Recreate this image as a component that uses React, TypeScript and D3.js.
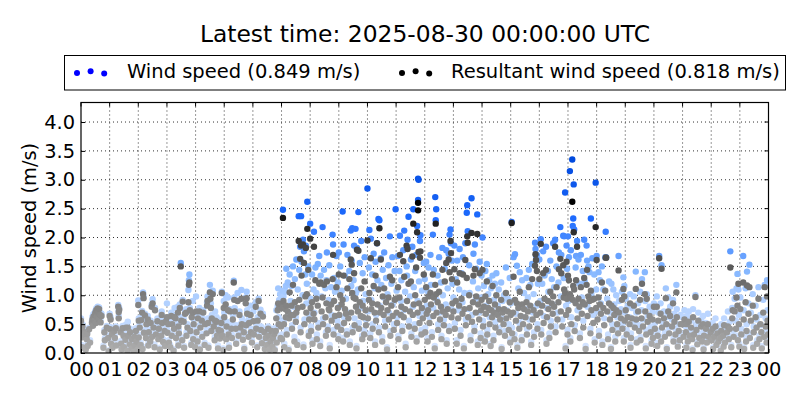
import React, { useEffect, useRef } from "react";
import * as d3 from "d3";

// one row per reading: [minute of the hour, wind speed, resultant wind speed]
const hour00 = [[0,.6,.56],[1,.3,.27],[1,.14,.1],[3,.5,.46],[4,.43,.38],[5,.12,.09],[7,.34,.31],[8,.37,.33],[10,.09,.06],[12,.29,.24],[13,.36,.33],[14,.16,.12],[17,.44,.41],[19,.22,.18],[23,.56,.53],[24,.63,.58],[25,.5,.47],[26,.67,.63],[28,.6,.56],[29,.7,.66],[30,.73,.7],[31,.55,.52],[32,.77,.74],[33,.66,.63],[35,.8,.77],[36,.74,.7],[37,.62,.58],[38,.79,.76],[40,.7,.66],[41,.56,.53],[43,.68,.64],[47,.13,.09],[49,.4,.36],[50,.26,.22],[54,.47,.44],[57,.3,.26],[58,.05,.03]];
const hour01 = [[0,.68,.64],[1,.45,.41],[2,.62,.58],[3,.2,.16],[5,.36,.32],[6,.13,.09],[10,.42,.38],[11,.3,.26],[13,.46,.43],[14,.18,.13],[18,.83,.8],[19,.74,.71],[19,.64,.6],[20,.78,.75],[23,.4,.36],[24,.21,.16],[25,.1,.06],[27,.47,.43],[29,.34,.3],[30,.15,.1],[33,.27,.23],[34,.49,.44],[37,.07,.04],[38,.54,.44],[39,.36,.3],[42,.2,.15],[43,.42,.36],[46,.12,.08],[47,.29,.24],[50,.04,.02],[52,.33,.28],[53,.17,.13],[55,.43,.38],[56,.24,.2],[59,.1,.06]];
const hour02 = [[0,.91,.83],[1,.6,.56],[1,.32,.27],[3,.5,.44],[5,.18,.14],[6,.62,.57],[8,.73,.7],[9,.11,.07],[10,1.05,1.02],[11,.98,.95],[12,.4,.35],[14,.68,.65],[16,.3,.26],[17,.57,.5],[20,.64,.58],[21,.17,.13],[22,.41,.36],[25,.24,.2],[26,.56,.52],[28,.84,.8],[29,.33,.28],[30,.93,.86],[32,.5,.44],[34,.15,.1],[35,.78,.74],[37,.39,.32],[40,.6,.55],[42,.28,.24],[43,.47,.42],[45,.09,.06],[48,.35,.3],[49,.72,.66],[50,.58,.52],[52,.24,.19],[55,.43,.38],[56,.16,.12],[58,.62,.55]];
const hour03 = [[0,.86,.62],[1,.4,.35],[3,.56,.5],[4,.22,.18],[7,.14,.1],[9,.7,.64],[10,.36,.3],[11,.55,.5],[14,.07,.04],[15,.49,.42],[16,.78,.62],[18,.66,.6],[19,.3,.26],[23,.8,.7],[24,.52,.46],[24,.18,.13],[25,.4,.34],[27,.84,.78],[29,1.56,1.5],[30,.62,.56],[32,.27,.22],[33,.92,.89],[35,.6,.54],[36,.12,.09],[38,.72,.68],[40,.76,.7],[41,.36,.3],[43,.5,.44],[45,1.09,.88],[46,1.26,1.18],[47,1.36,1.22],[48,.78,.74],[49,.44,.38],[51,.18,.14],[52,.7,.62],[54,.9,.7],[55,.3,.24],[56,.58,.5],[59,.16,.1]];
const hour04 = [[1,.98,.72],[2,.42,.36],[4,.24,.2],[5,.66,.6],[8,.78,.72],[9,.1,.06],[10,.5,.44],[13,.62,.56],[14,.33,.28],[16,.74,.7],[19,.18,.14],[20,.56,.5],[23,.4,.34],[24,.88,.82],[25,.98,.9],[26,.6,.52],[27,.13,.09],[30,1.18,1.05],[31,1.06,.94],[32,.86,.78],[33,.44,.38],[34,.66,.6],[36,1.08,1.02],[38,.52,.46],[40,.28,.22],[41,.72,.56],[44,.62,.54],[45,.36,.3],[47,.13,.08],[48,.46,.4],[51,.3,.25],[53,.44,.38],[54,.58,.52],[55,1.06,1.04],[56,.36,.3],[58,.08,.05],[59,.9,.78]];
const hour05 = [[0,.7,.62],[3,1,.84],[4,.28,.24],[5,.54,.46],[8,.96,.74],[9,.4,.32],[10,.14,.09],[12,.76,.72],[15,.5,.42],[16,.32,.26],[18,.66,.58],[20,1.25,1.22],[21,.96,.92],[22,.78,.72],[24,.48,.42],[25,.2,.16],[28,1.04,.9],[30,.36,.3],[32,.72,.66],[34,.5,.44],[36,1.09,.94],[37,.6,.5],[39,.27,.23],[41,.42,.36],[42,.1,.07],[45,.96,.86],[46,.54,.48],[47,1.06,.95],[48,.74,.68],[51,.33,.28],[52,.6,.52],[55,.82,.66],[56,.42,.36],[58,.22,.18]];
const hour06 = [[1,.72,.55],[2,.38,.32],[6,.88,.8],[7,.5,.42],[9,.13,.1],[10,.62,.56],[12,.94,.9],[13,.34,.28],[16,.75,.68],[17,.46,.4],[19,.22,.17],[21,.68,.63],[24,.42,.36],[25,.12,.07],[27,.3,.26],[30,.18,.14],[32,.46,.42],[33,.34,.3],[35,.09,.06],[37,.24,.2],[39,.42,.38],[41,.15,.11],[42,.3,.26],[45,.38,.33],[46,.07,.05],[48,.44,.38],[49,.74,.6],[50,.22,.18],[52,.82,.74],[53,1.12,.86],[54,.62,.5],[55,.92,.78],[57,1.02,.85],[58,.3,.26],[59,.52,.46]];
const hour07 = [[0,.94,.85],[1,.32,.24],[2,1.08,.78],[3,2.48,2.34],[4,.98,.9],[5,.56,.5],[6,.16,.1],[8,1.06,.76],[9,1.16,.62],[10,1.46,.82],[11,.4,.32],[13,1.22,.72],[15,.08,.05],[16,.7,.6],[17,1.36,1.05],[19,.9,.66],[21,1.16,.82],[22,.48,.42],[24,1.5,1.18],[25,.8,.66],[27,.28,.2],[28,1.28,.88],[30,.62,.54],[31,1.62,.7],[33,.2,.14],[34,1.1,.78],[36,2.37,1.94],[37,1.44,.92],[39,1.84,1.63],[40,.44,.36],[41,2.37,1.86],[42,1.58,1.34],[44,1,.8],[45,1.96,1.88],[46,.15,.1],[47,1.76,1.56],[48,.58,.5],[50,1.36,.98],[51,1.86,1.82],[52,.86,.7],[53,1.2,1.02],[54,2.62,2.15],[56,1.5,1.44],[57,.36,.3],[58,.66,.58]];
const hour08 = [[0,2.24,1.98],[1,.94,.78],[2,.46,.38],[4,1.36,.88],[5,.22,.16],[7,1.1,.68],[8,2.1,1.84],[9,.7,.58],[11,1.48,1.26],[13,1.04,.94],[14,.32,.24],[16,1.54,.82],[17,.52,.44],[19,1.68,1.2],[21,.2,.12],[22,1.34,1.22],[24,.98,.72],[26,2.18,.96],[27,.6,.5],[29,1.44,1.18],[32,1.12,.62],[33,.36,.3],[34,1.26,.86],[35,1.74,1.24],[37,.46,.4],[39,.92,.76],[40,1.52,.74],[41,.14,.08],[44,1.14,.84],[45,.66,.56],[47,2.05,1.28],[48,1.88,1.7],[49,.4,.32],[50,1.3,.9],[52,1.06,.64],[55,1.68,1.14],[57,.56,.46],[58,1.22,.78],[59,.3,.24]];
const hour09 = [[0,1.74,1.36],[1,.8,.66],[3,1.5,1],[5,.48,.4],[6,1.08,.84],[8,2.45,.92],[9,.26,.2],[10,1.88,1.34],[11,.62,.52],[13,1.34,.76],[15,.94,.68],[17,.38,.32],[18,1.7,1.12],[20,.7,.6],[22,1.42,1.28],[23,.2,.14],[25,2.12,1.62],[26,1.16,.7],[27,1.6,1.53],[28,2.16,1.04],[29,.44,.36],[31,1.26,.96],[32,1.86,1.38],[33,.6,.48],[35,2.15,.94],[36,1.04,.8],[37,.12,.08],[38,1.82,1.79],[40,1.1,.72],[41,2.44,1.77],[42,.52,.42],[44,1.56,.88],[46,.78,.64],[47,1.94,1.12],[49,.3,.24],[50,1.38,.82],[51,.9,.62],[53,.4,.32],[54,1.66,1.24],[56,1.02,.74],[57,.58,.48]];
const hour10 = [[0,2.85,1.95],[1,.72,.6],[3,1.48,.92],[4,2.13,1.04],[6,.34,.26],[7,1.98,1.64],[8,.92,.76],[10,1.36,.86],[11,.5,.42],[13,1.72,1.16],[15,1.12,.7],[16,.2,.14],[17,1.58,1.34],[18,.66,.56],[20,1.9,1.9],[21,1.26,.84],[23,2.32,1.1],[24,.44,.36],[25,2.3,2.16],[26,.82,.7],[28,1.64,1.62],[29,1.18,.78],[31,.28,.2],[32,1.44,.98],[34,.96,.66],[35,1.74,1.12],[37,.56,.46],[39,1.3,.88],[41,.1,.06],[42,1.02,.74],[44,1.52,.96],[45,.7,.58],[47,2.02,1.32],[48,.38,.3],[50,1.2,.82],[52,1.66,1.26],[53,.84,.64],[55,.5,.4],[57,1.42,.92],[59,2.49,.94]];
const hour11 = [[1,1.08,.7],[2,.62,.52],[4,1.68,1.14],[5,.3,.24],[7,1.42,.96],[8,2.03,1.7],[10,.9,.66],[11,1.26,.8],[13,.46,.38],[15,1.78,1.59],[16,.74,.62],[17,2.12,1.32],[19,1.06,.76],[20,.16,.1],[22,1.5,1.86],[23,1.34,.9],[24,1.96,1.8],[26,2.36,1.2],[27,.56,.46],[29,.98,.72],[31,1.62,1.24],[32,.34,.28],[34,1.84,1.67],[35,.8,.66],[36,2.49,2.24],[37,1.14,.84],[39,.5,.42],[40,1.42,1],[42,1.7,1.48],[43,.26,.2],[44,2.2,2.09],[45,.9,.7],[46,3.02,2.47],[46,2.65,2.6],[47,3,1.75],[48,1.24,.86],[49,.64,.52],[50,1.94,1.65],[51,2.04,1.76],[53,.4,.32],[54,1.08,.78],[56,.72,.6],[58,1.56,1.36]];
const hour12 = [[0,1.28,.92],[1,.44,.36],[3,1.58,1.14],[4,.82,.68],[6,.26,.2],[7,1.06,.74],[8,1.48,.98],[10,.62,.52],[12,1.7,1.04],[13,1.18,.84],[15,.36,.28],[17,2.05,1.36],[18,.78,.64],[19,1.44,.96],[21,.12,.08],[22,2.7,1.18],[23,2.3,2.24],[24,2.49,1.02],[25,.92,.7],[27,1.34,.88],[28,.5,.4],[30,1.66,1.06],[32,.7,.58],[34,1.22,.8],[35,.3,.24],[37,1.82,1.44],[38,1,.72],[40,.58,.48],[42,1.46,1.24],[44,.84,.66],[45,1.78,1.56],[46,.22,.16],[48,1.12,.76],[50,1.72,1.62],[51,.46,.38],[52,2.05,1.4],[54,2.14,1.94],[55,1.9,1.73],[56,.76,.62],[57,1.6,1.28],[58,1.2,.86]];
const hour13 = [[0,.96,.72],[2,1.86,1.45],[3,.52,.42],[5,1.28,.9],[7,.22,.16],[8,1.6,1.22],[10,.74,.6],[12,1.1,.82],[13,1.8,1.38],[15,.4,.3],[17,1.38,.94],[19,.88,.68],[20,1.66,1.36],[22,.12,.08],[23,1.04,.76],[25,1.9,1.61],[26,.58,.48],[28,2.43,1.3],[29,2.56,2.02],[30,2.11,1.91],[31,.76,.62],[33,1.52,1],[34,1.04,.78],[36,.3,.22],[38,2.68,2.08],[39,.66,.54],[41,1.24,.88],[42,1.72,1.34],[44,.46,.38],[45,1.88,1.45],[47,.94,.7],[48,1.46,.98],[50,2.4,2.06],[51,.2,.14],[52,1.12,.84],[54,.7,.58],[55,1.58,1.38],[57,.34,.26],[58,.96,.74],[59,1.34,.92]];
const hour14 = [[1,2,1.44],[2,.56,.46],[4,1.16,.8],[6,.26,.2],[7,1.42,.98],[8,.82,.68],[10,1.54,1.24],[11,.4,.32],[13,1.02,.78],[15,1.26,.9],[16,.62,.5],[18,.16,.12],[19,1.12,.74],[21,.74,.62],[22,1.34,1.16],[24,.3,.22],[25,.92,.7],[27,1.2,.84],[28,.54,.44],[30,1.38,1],[33,.82,.66],[35,1.1,.76],[36,.44,.36],[38,.7,.58],[40,1.22,.92],[41,.1,.07],[43,.9,.7],[45,.6,.5],[46,1,.76],[48,.38,.3],[50,1.48,1.04],[51,.74,.6],[54,.94,.72],[56,.5,.4],[58,1.3,.88],[59,.24,.18]];
const hour15 = [[0,.86,.66],[2,2.27,2.25],[3,.44,.34],[5,.9,.7],[6,1.66,1.32],[8,.32,.24],[9,1.71,.92],[11,.68,.56],[13,1.51,.86],[14,.14,.09],[16,1.12,.78],[18,.52,.42],[19,1.4,1.06],[21,.82,.64],[23,.28,.22],[24,1.26,.84],[26,.62,.5],[28,1.04,.76],[31,.76,.62],[33,1.3,.88],[34,.42,.32],[36,.96,.72],[38,1.44,1.14],[39,.58,.46],[41,1.18,.82],[43,.2,.14],[45,1.54,1.28],[46,.7,.58],[48,1.02,.74],[49,.36,.28],[51,1.91,1.51],[52,1.8,1.71],[53,1.68,1.61],[54,.82,.66],[55,1.7,1.42],[56,.5,.42],[57,1.2,.86]];
const hour16 = [[0,1.62,1.28],[2,.9,.7],[3,1.97,1.89],[4,.4,.32],[6,1.2,.82],[8,1.76,1.38],[9,.64,.52],[11,1.34,.94],[14,1.84,1.44],[15,.22,.16],[16,.78,.62],[18,1.42,.9],[19,1.06,.76],[21,.34,.26],[23,1.6,1.06],[24,.56,.46],[26,1.28,.86],[28,.84,.68],[29,1.9,.98],[31,1.14,.8],[33,1.96,1.84],[34,.46,.36],[36,1.5,1.14],[38,.7,.58],[40,1.22,.88],[41,1.74,1.45],[44,2.18,1.63],[45,.98,.72],[46,1.7,1.38],[48,.58,.46],[50,2.03,1.52],[51,1.3,.96],[52,2.02,1.1],[54,2.78,1.04],[55,.12,.08],[56,.82,.66],[57,1.86,1.58],[58,1.46,.94],[59,.4,.32]];
const hour17 = [[0,2.02,1.34],[1,.9,.74],[2,1.66,1.26],[4,3.15,1.02],[5,.26,.2],[6,1.78,.96],[7,.62,.5],[9,3.35,2.62],[10,2.2,.92],[11,2.33,1.16],[12,2.92,2.09],[13,2.14,1.1],[14,.48,.38],[16,1.48,.86],[17,1.68,1.26],[19,1.94,1.84],[20,.74,.6],[22,1.62,.94],[24,1.2,.8],[25,.34,.26],[27,1.7,1.14],[29,.96,.68],[31,1.42,.88],[32,.56,.44],[34,1.96,1.3],[35,1.24,.84],[37,.12,.07],[39,1.86,1.18],[40,1.6,1.44],[41,.8,.64],[43,1.5,.98],[45,1.4,.9],[47,.42,.34],[48,2.33,1.08],[49,1.02,.74],[51,1.64,.92],[53,.66,.52],[55,1.36,.94],[56,.24,.18],[58,2.95,2.18],[59,1.1,.78]];
const hour18 = [[0,1.68,1.61],[2,.72,.58],[4,1.4,.96],[5,.38,.3],[7,1.26,.84],[9,.86,.68],[11,1.5,1.22],[12,.2,.14],[14,1.1,.78],[16,.6,.48],[18,1.66,1.08],[19,2.1,1.65],[20,1.66,1.65],[22,.94,.72],[24,.32,.24],[26,1.24,.86],[28,.7,.58],[30,.1,.07],[31,1.2,.82],[33,.5,.4],[35,1.1,.78],[37,.84,.66],[39,.28,.2],[41,1,.74],[43,.62,.5],[45,.42,.34],[46,1.68,1.43],[47,.9,.7],[51,.76,.6],[53,1.06,.92],[54,.5,.42],[56,1.31,1.11],[57,.26,.2],[58,1.16,.98],[59,.7,.56]];
const hour19 = [[1,.94,.74],[3,.4,.32],[5,.82,.62],[9,.62,.5],[10,1.02,.86],[11,.14,.09],[12,.34,.26],[14,.78,.6],[18,.98,.82],[20,.54,.44],[22,1.41,1.11],[23,.7,.58],[24,.24,.18],[27,.86,.72],[29,.48,.38],[31,1.06,.92],[32,.28,.22],[34,.74,.6],[35,1.28,1.2],[37,.58,.46],[41,1.4,1.02],[42,.9,.72],[43,.12,.08],[44,.4,.32],[45,1.02,.94],[47,.66,.54],[51,.8,.64],[53,.46,.36],[55,.22,.16],[57,.72,.58],[58,.32,.26]];
const hour20 = [[0,.86,.8],[2,.52,.42],[6,.98,.8],[7,.18,.12],[8,.38,.3],[9,.7,.56],[11,1.68,1.64],[14,.86,.68],[15,.28,.2],[16,1.52,1.46],[17,.54,.44],[21,.72,.6],[23,.36,.28],[25,1.12,.95],[26,.62,.5],[27,.1,.07],[30,.96,.72],[32,.44,.34],[34,.8,.64],[38,.58,.46],[40,.92,.86],[41,.25,.2],[43,.68,.54],[45,.42,.32],[47,1.18,1.05],[48,.76,.62],[50,.16,.11],[52,.5,.38],[54,.28,.22],[56,.66,.5]];
const hour21 = [[0,.62,.5],[2,.34,.28],[4,.74,.58],[7,.46,.36],[8,.14,.09],[9,.64,.5],[11,.26,.2],[13,.72,.54],[15,.38,.3],[18,.56,.44],[20,.3,.24],[21,.08,.05],[22,.76,.62],[24,.42,.32],[27,1,.97],[29,.5,.4],[31,.2,.15],[33,.7,.56],[35,.34,.26],[39,.58,.46],[41,.26,.2],[43,.64,.5],[44,.09,.06],[45,.4,.3],[49,.52,.42],[51,.24,.18],[53,.68,.5],[55,.36,.28],[59,.46,.36]];
const hour22 = [[1,.28,.22],[3,.52,.42],[4,.1,.07],[7,.36,.28],[9,.6,.46],[11,.2,.14],[13,.42,.34],[15,.26,.2],[19,.34,.26],[20,.07,.04],[21,.5,.38],[25,.4,.3],[26,.16,.11],[27,.6,.48],[29,.24,.18],[33,.48,.36],[35,.72,.46],[37,.3,.24],[39,.54,.42],[40,1.76,1.48],[42,.14,.1],[44,.78,.6],[45,1.06,.74],[47,.38,.28],[49,.94,.72],[52,.56,.42],[53,1.12,.96],[55,1.37,.82],[56,.3,.22],[57,1.1,1.2],[58,.66,.5],[59,.16,.11]];
const hour23 = [[1,.96,.76],[3,.42,.32],[7,1.68,1.22],[8,.74,.58],[9,.1,.07],[12,1.12,.88],[13,.28,.2],[14,.5,.38],[15,1.41,1.17],[18,.86,.68],[20,1.53,1.14],[21,.34,.26],[23,.7,.56],[27,1.02,.82],[28,.14,.09],[29,.46,.36],[33,.82,.62],[35,.58,.44],[36,.22,.16],[39,1.14,.94],[41,.3,.24],[43,.66,.5],[45,.48,.36],[46,.12,.08],[49,.92,.7],[51,.36,.28],[52,1.18,1.14],[54,.6,.46],[56,.24,.18],[57,1.26,.98],[58,.74,.56],[59,.42,.32]];
const hours = [hour00, hour01, hour02, hour03, hour04, hour05, hour06, hour07, hour08, hour09, hour10, hour11, hour12, hour13, hour14, hour15, hour16, hour17, hour18, hour19, hour20, hour21, hour22, hour23];

const yTicks = [0, 0.5, 1, 1.5, 2, 2.5, 3, 3.5, 4];
const hourLabels = ["00","01","02","03","04","05","06","07","08","09","10","11","12","13","14","15","16","17","18","19","20","21","22","23","00"];
const title = "Latest time: 2025-08-30 00:00:00 UTC";
const windLabel = "Wind speed (0.849 m/s)";
const resultantLabel = "Resultant wind speed (0.818 m/s)";

const plot = { left: 81, right: 768.5, top: 102.5, bottom: 353 };
const font = "'DejaVu Sans', sans-serif";

export default function App() {
  const svgRef = useRef<SVGSVGElement>(null);

  useEffect(() => {
    const svg = d3.select(svgRef.current);
    svg.selectAll("*").remove();

    const x = d3.scaleLinear().domain([0, 24]).range([plot.left, plot.right]);
    const y = d3.scaleLinear().domain([0, 4.338]).range([plot.bottom, plot.top]);

    // the points fade out towards zero
    const windColor = d3.scaleLinear<string>()
      .domain([0, 1, 1.5, 2.3, 3.4])
      .range(["#d8e6ff", "#accdff", "#7db2ff", "#1f6cff", "#0048dc"]);
    const resultantColor = d3.scaleLinear<string>()
      .domain([0, 0.5, 1, 1.5, 2, 2.6])
      .range(["#b0b0b0", "#939393", "#7a7a7a", "#5a5a5a", "#383838", "#000000"]);

    const rows = hours.flatMap((rows, h) => rows.map((r) => ({ t: h + r[0] / 60, wind: r[1], resultant: r[2] })));

    svg.append("text")
      .attr("x", 425).attr("y", 42)
      .attr("text-anchor", "middle")
      .attr("font-size", 23.4)
      .text(title);

    // legend
    const legend = svg.append("g");
    legend.append("rect")
      .attr("x", 64.5).attr("y", 55.5).attr("width", 721).attr("height", 34.5)
      .attr("fill", "#fff").attr("stroke", "#000").attr("stroke-width", 1);
    const legendDx = [0, 13.6, 27.2];
    const legendDy = [73, 71.3, 73.4];
    legendDx.forEach((dx, i) => {
      legend.append("circle").attr("cx", 77 + dx).attr("cy", legendDy[i]).attr("r", 3).attr("fill", "#0000ff");
      legend.append("circle").attr("cx", 402 + dx).attr("cy", legendDy[i]).attr("r", 3).attr("fill", "#000");
    });
    legend.append("text").attr("x", 127).attr("y", 78).attr("font-size", 19.5).text(windLabel);
    legend.append("text").attr("x", 451).attr("y", 78).attr("font-size", 19.5).text(resultantLabel);

    svg.append("clipPath").attr("id", "plot-clip")
      .append("rect")
      .attr("x", plot.left).attr("y", plot.top)
      .attr("width", plot.right - plot.left).attr("height", plot.bottom - plot.top);

    // grid
    const grid = svg.append("g")
      .attr("stroke", "#000").attr("stroke-width", 1).attr("stroke-dasharray", "1,3").attr("opacity", 0.8);
    yTicks.slice(1).forEach((v) => {
      grid.append("line").attr("x1", plot.left).attr("x2", plot.right).attr("y1", y(v)).attr("y2", y(v));
    });
    d3.range(1, 24).forEach((h) => {
      grid.append("line").attr("x1", x(h)).attr("x2", x(h)).attr("y1", plot.top).attr("y2", plot.bottom);
    });

    // points
    const marks = svg.append("g").attr("clip-path", "url(#plot-clip)");
    marks.selectAll("circle.wind").data(rows).join("circle")
      .attr("class", "wind")
      .attr("cx", (d) => x(d.t)).attr("cy", (d) => y(d.wind)).attr("r", 3.2)
      .attr("fill", (d) => windColor(d.wind));
    marks.selectAll("circle.resultant").data(rows).join("circle")
      .attr("class", "resultant")
      .attr("cx", (d) => x(d.t)).attr("cy", (d) => y(d.resultant)).attr("r", 3.2)
      .attr("fill", (d) => resultantColor(d.resultant));

    // axes, ticks point inwards on all four sides
    const xAxis = d3.axisBottom(x).tickValues(d3.range(0, 25)).tickFormat((d) => hourLabels[+d]).tickSize(-4).tickPadding(9);
    const yAxis = d3.axisLeft(y).tickValues(yTicks).tickFormat(d3.format(".1f")).tickSize(-4).tickPadding(6);
    const gx = svg.append("g").attr("transform", `translate(0,${plot.bottom})`).call(xAxis);
    const gy = svg.append("g").attr("transform", `translate(${plot.left},0)`).call(yAxis);
    [gx, gy].forEach((g) => {
      g.attr("font-family", font).attr("font-size", 19.4);
      g.select(".domain").remove();
      g.selectAll("line").attr("stroke", "#000");
      g.selectAll("text").attr("fill", "#000");
    });
    const topTicks = svg.append("g").attr("stroke", "#000");
    d3.range(0, 25).forEach((h) => {
      topTicks.append("line").attr("x1", x(h)).attr("x2", x(h)).attr("y1", plot.top).attr("y2", plot.top + 4);
    });
    yTicks.forEach((v) => {
      topTicks.append("line").attr("x1", plot.right - 4).attr("x2", plot.right).attr("y1", y(v)).attr("y2", y(v));
    });

    svg.append("rect")
      .attr("x", plot.left).attr("y", plot.top)
      .attr("width", plot.right - plot.left).attr("height", plot.bottom - plot.top)
      .attr("fill", "none").attr("stroke", "#000").attr("stroke-width", 1.2);

    svg.append("text")
      .attr("transform", "translate(36,228) rotate(-90)")
      .attr("text-anchor", "middle")
      .attr("font-size", 19.4)
      .text("Wind speed (m/s)");
  }, []);

  return (
    <svg
      ref={svgRef}
      width={800}
      height={400}
      style={{ position: "absolute", left: 0, top: 0, background: "#fff", fontFamily: font }}
    />
  );
}
